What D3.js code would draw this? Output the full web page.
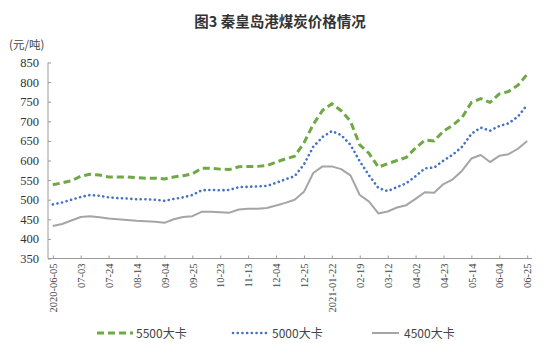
<!DOCTYPE html>
<html>
<head>
<meta charset="utf-8">
<script src="https://cdn.jsdelivr.net/npm/d3@7"></script>
<style>
  html, body { margin: 0; padding: 0; background: #fff; }
  svg { display: block; }
</style>
</head>
<body>
<svg id="chart" width="550" height="355"></svg>
<script>
// ---- data ----
const title = "图3 秦皇岛港煤炭价格情况";
const unitLabel = "(元/吨)";
const seriesNames = ["5500大卡", "5000大卡", "4500大卡"];
// weekly observations, 2020-06-05 .. 2021-06-25 (52 points)
const categories = d3.range(52);
const tickLabels = ["2020-06-05", "07-03", "07-24", "08-14", "09-04", "09-25", "10-23", "11-13", "12-04",
                    "12-25", "2021-01-22", "02-19", "03-12", "04-02", "04-23", "05-14", "06-04", "06-25"];
const tickEvery = 3;
const values5500 = [538, 543, 548, 560, 565, 563, 558, 558, 558, 556, 555, 555, 553, 558, 561, 566,
                    580, 580, 578, 577, 584, 585, 585, 587, 596, 604, 611, 645, 692, 728, 745, 727,
                    700, 640, 618, 583, 592, 600, 608, 632, 652, 650, 675, 690, 710, 748, 758, 748,
                    770, 776, 792, 820];
const values5000 = [488, 493, 500, 507, 512, 510, 506, 504, 503, 501, 501, 500, 497, 502, 506, 512,
                    524, 525, 524, 525, 532, 533, 534, 535, 543, 552, 560, 590, 635, 660, 675, 665,
                    640, 598, 562, 530, 522, 532, 542, 560, 580, 582, 600, 615, 635, 668, 684, 676,
                    688, 695, 712, 742];
const values4500 = [433, 438, 447, 456, 458, 455, 452, 450, 448, 446, 445, 444, 441, 450, 456, 458,
                    469, 469, 468, 467, 475, 477, 477, 479, 485, 492, 500, 520, 568, 585, 585, 578,
                    562, 512, 495, 465, 470, 480, 486, 502, 519, 518, 540, 552, 574, 605, 614, 596,
                    612, 616, 630, 650];
const yTicks = [350, 400, 450, 500, 550, 600, 650, 700, 750, 800, 850];

// ---- layout ----
const svg = d3.select("#chart");
const plotLeft = 48, plotRight = 532, plotTop = 62.5, plotBottom = 258.5;

const x = d3.scalePoint().domain(categories).range([52.8, 527.2]);
const y = d3.scaleLinear().domain([350, 850]).range([plotBottom, plotTop]);

// title
svg.append("text")
  .attr("x", 280).attr("y", 27)
  .attr("text-anchor", "middle")
  .attr("font-family", "'Noto Sans CJK SC', sans-serif")
  .attr("font-weight", "bold")
  .attr("font-size", 14.5)
  .attr("fill", "#333")
  .text(title);

svg.append("text")
  .attr("x", 9).attr("y", 49)
  .attr("font-family", "'Noto Sans CJK SC', sans-serif")
  .attr("font-size", 11.5)
  .attr("fill", "#444")
  .text(unitLabel);

// y axis
const yAxis = d3.axisRight(y).tickValues(yTicks).tickSize(3).tickFormat(d3.format("d"));
const gy = svg.append("g").attr("transform", `translate(${plotLeft},0)`).call(yAxis);
gy.select(".domain").remove();
gy.selectAll(".tick line").attr("stroke", "#9a9a9a");
gy.selectAll(".tick text")
  .attr("x", -9).attr("text-anchor", "end")
  .attr("font-family", "'Liberation Serif', serif")
  .attr("font-size", 12.5)
  .attr("fill", "#333");
svg.append("line")
  .attr("x1", plotLeft).attr("x2", plotLeft).attr("y1", y(850)).attr("y2", plotBottom)
  .attr("stroke", "#9a9a9a");

// x axis
const tickCats = categories.filter(i => i % tickEvery === 0);
const xAxis = d3.axisTop(x).tickValues(tickCats).tickSize(3)
  .tickFormat(i => tickLabels[i / tickEvery]);
const gx = svg.append("g").attr("transform", `translate(0,${plotBottom})`).call(xAxis);
gx.select(".domain").remove();
gx.selectAll(".tick line").attr("stroke", "#9a9a9a");
gx.selectAll(".tick text")
  .attr("transform", "rotate(-90)")
  .attr("x", -5).attr("y", 0).attr("dy", "0.35em")
  .attr("text-anchor", "end")
  .attr("font-family", "'Liberation Serif', serif")
  .attr("font-size", 10.5)
  .attr("fill", "#444");
svg.append("line")
  .attr("x1", plotLeft).attr("x2", plotRight).attr("y1", plotBottom).attr("y2", plotBottom)
  .attr("stroke", "#9a9a9a");

// series
const series = [
  { name: seriesNames[0], values: values5500, color: "#6fa845", width: 3, dash: "7,4", cap: "butt" },
  { name: seriesNames[1], values: values5000, color: "#4472c4", width: 2.6, dash: "0.1,4.6", cap: "round" },
  { name: seriesNames[2], values: values4500, color: "#a5a5a5", width: 2, dash: null, cap: "butt" }
];
const line = d3.line().x((d, i) => x(categories[i])).y(d => y(d)).curve(d3.curveLinear);

series.slice().reverse().forEach(s => {
  svg.append("path")
    .datum(s.values)
    .attr("d", line)
    .attr("fill", "none")
    .attr("stroke", s.color)
    .attr("stroke-width", s.width)
    .attr("stroke-dasharray", s.dash)
    .attr("stroke-linecap", s.cap)
    .attr("stroke-linejoin", "round");
});

// legend
const legendItems = [
  { x1: 97, x2: 133, tx: 136 },
  { x1: 233, x2: 266, tx: 272 },
  { x1: 372, x2: 399, tx: 404 }
];
const lg = svg.append("g");
series.forEach((s, i) => {
  const p = legendItems[i];
  lg.append("line")
    .attr("x1", p.x1).attr("x2", p.x2).attr("y1", 333).attr("y2", 333)
    .attr("stroke", s.color)
    .attr("stroke-width", s.width)
    .attr("stroke-dasharray", s.dash)
    .attr("stroke-linecap", s.cap);
  lg.append("text")
    .attr("x", p.tx).attr("y", 337.5)
    .attr("font-family", "'Noto Sans CJK SC', sans-serif")
    .attr("font-size", 12)
    .attr("fill", "#444")
    .text(s.name);
});
</script>
</body>
</html>
